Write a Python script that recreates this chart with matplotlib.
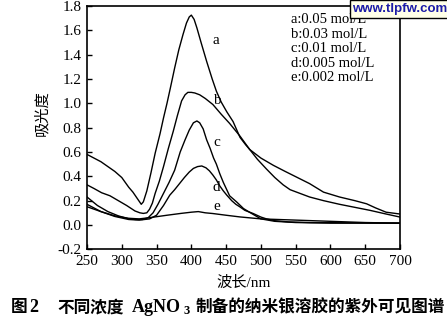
import matplotlib
matplotlib.use("Agg")
import matplotlib.pyplot as plt

# ---- data ----
wl_a = [250,260,270,280,290,300,310,316,322,328,331,336,342,348,355,360,365,370,376,382,388,393,397,400,404,408,414,422,430,436,443,451,460,470,478,484,495,508,520,532,542,556,570,590,613,635,657,680,700]
abs_a = [0.58,0.55,0.52,0.48,0.44,0.39,0.31,0.27,0.22,0.17,0.19,0.28,0.43,0.59,0.75,0.88,1.00,1.13,1.29,1.44,1.565,1.66,1.71,1.725,1.69,1.62,1.50,1.345,1.20,1.10,1.01,0.93,0.85,0.72,0.66,0.62,0.54,0.46,0.39,0.33,0.29,0.26,0.23,0.20,0.17,0.145,0.12,0.09,0.065]

wl_b = [250,260,271,283,295,307,319,326,331,336,340,344,348,354,360,367,374,380,386,391,395,400,405,412,420,431,443,455,470,484,500,518,535,556,570,590,613,635,652,665,680,700]
abs_b = [0.33,0.30,0.265,0.24,0.20,0.16,0.115,0.10,0.095,0.10,0.13,0.18,0.26,0.36,0.48,0.63,0.77,0.90,1.02,1.07,1.09,1.09,1.085,1.07,1.04,0.99,0.91,0.835,0.73,0.62,0.55,0.49,0.44,0.38,0.34,0.27,0.23,0.20,0.174,0.14,0.105,0.09]

wl_c = [250,265,280,295,310,320,330,338,345,352,360,368,376,384,391,397,403,408,412,417,422,427,432,436,441,446,455,465,475,485,500,520,550,600,650,700]
abs_c = [0.23,0.16,0.11,0.075,0.05,0.045,0.045,0.06,0.10,0.17,0.26,0.35,0.45,0.60,0.70,0.78,0.84,0.855,0.84,0.79,0.70,0.63,0.55,0.50,0.42,0.35,0.24,0.19,0.135,0.10,0.05,0.03,0.02,0.015,0.015,0.015]

wl_d = [250,270,290,310,325,340,350,360,369,376,383,390,397,403,409,415,421,426,431,436,441,446,451,458,464,470,477,489,500,508,520,540,570,700]
abs_d = [0.17,0.11,0.07,0.045,0.04,0.05,0.08,0.16,0.245,0.29,0.34,0.39,0.435,0.465,0.48,0.485,0.47,0.445,0.41,0.37,0.32,0.28,0.245,0.20,0.17,0.148,0.12,0.094,0.065,0.05,0.035,0.025,0.02,0.015]

wl_e = [250,270,290,310,325,340,365,385,400,410,420,431,450,470,500,550,600,650,700]
abs_e = [0.15,0.11,0.075,0.055,0.05,0.06,0.08,0.095,0.105,0.11,0.10,0.094,0.08,0.066,0.05,0.04,0.03,0.02,0.015]

curve_labels = ["a", "b", "c", "d", "e"]
legend_lines = ["a:0.05 mol/L", "b:0.03 mol/L", "c:0.01 mol/L", "d:0.005 mol/L", "e:0.002 mol/L"]
xticks = [250, 300, 350, 400, 450, 500, 550, 600, 650, 700]
yticks = [-0.2, 0.0, 0.2, 0.4, 0.6, 0.8, 1.0, 1.2, 1.4, 1.6, 1.8]

# ---- styling ----
serif = ["Liberation Serif", "Noto Sans CJK SC"]
cjk = ["Noto Sans CJK SC", "DejaVu Sans"]
plt.rcParams["font.family"] = serif

W, H = 447, 324
fig = plt.figure(figsize=(W/100, H/100), dpi=100)
ax = fig.add_axes([87/W, 1-249.3/H, (400-87)/W, (249.3-6)/H])

for wl, ab in zip([wl_a, wl_b, wl_c, wl_d, wl_e], [abs_a, abs_b, abs_c, abs_d, abs_e]):
    ax.plot(wl, ab, color="black", lw=1.0)

ax.set_xlim(250, 700)
ax.set_ylim(-0.2, 1.8)
ax.set_xticks(xticks)
ax.set_yticks(yticks)
ax.set_yticklabels([f"{v:.1f}" for v in yticks])
ax.tick_params(direction="in", length=3.5, width=1.0, labelsize=11, pad=4)
for s in ax.spines.values():
    s.set_linewidth(1.2)

# curve labels
lab_pos = [(436, 1.52), (436, 1.025), (436, 0.68), (436, 0.31), (436, 0.15)]
for t, (x, y) in zip(curve_labels, lab_pos):
    ax.text(x, y, t, fontsize=11, ha="center", va="center", family=serif)

# concentration legend text
for i, t in enumerate(legend_lines):
    ax.text(0.651, 0.943 - i*0.0595, t, transform=ax.transAxes, fontsize=10.5,
            ha="left", va="center", family=serif)

ax.set_xlabel("波长/nm", fontsize=11, family=["Liberation Serif", "Noto Sans CJK SC"], labelpad=6)
ax.set_ylabel("吸光度", fontsize=11, family=cjk)
ax.yaxis.set_label_coords(-0.118, 0.56)

# caption, laid out piece by piece (x start in pixels, text, family, size, baseline shift)
yc = 307.0
pieces = [
    (11, "图", ["Noto Sans CJK SC"], 12, 0),
    (29, "2", ["Liberation Serif"], 13, 0),
    (57, "不同浓度", ["Noto Sans CJK SC"], 12, 0),
    (132, "AgNO", ["Liberation Serif"], 13, 0),
    (183, "3", ["Liberation Serif"], 9, -4),
    (196, "制备的纳米银溶胶的紫外可见图谱", ["Noto Sans CJK SC"], 12, 0),
]
for xs, txt, fam, fs, dy in pieces:
    fig.text(xs/W, 1-(yc - dy)/H, txt, fontsize=fs, fontweight="bold",
             ha="left", va="center", family=fam)

# watermark box
fig.text(400/W, 1-9/H, "www.tlpfw.com", fontsize=9.5, fontweight="bold",
         color="#1c1ca8", ha="center", va="center", family=["Liberation Sans"],
         bbox=dict(boxstyle="square,pad=0.2", facecolor="#ffffe8", edgecolor="black", lw=1.0))

fig.savefig("out.png", dpi=100)
